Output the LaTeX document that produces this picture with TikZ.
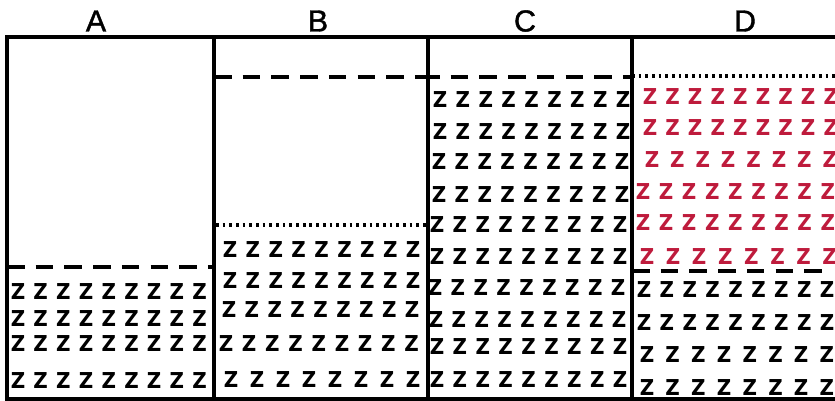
\documentclass[tikz,border=0pt]{standalone}
\usepackage{fontspec}
\setmainfont{Liberation Sans}
\newfontfamily\zfont{DejaVu Sans Bold}
\newfontfamily\headfont{Liberation Sans}[FakeBold=1.2]
\definecolor{zred}{HTML}{BE1B3C}
\begin{document}
\begin{tikzpicture}[x=0.03cm,y=-0.03cm,
  wall/.style={line width=2.9pt},
  levelline/.style={line width=3pt, dash pattern=on 15pt off 9.5pt},
  fineline/.style={line width=2.6pt, dash pattern=on 2.3pt off 3.4pt},
  zlet/.style={font=\zfont\fontsize{17}{17}\selectfont, inner sep=0pt, yscale=1.1},
  zhot/.style={zlet, text=zred},
  head/.style={font=\headfont\fontsize{26}{26}\selectfont, inner sep=0pt}]
  \useasboundingbox (0,0) rectangle (835,401);
  % column headers
  \node[head] (labA) at (96,21) {A};
  \node[head] (labB) at (318,21) {B};
  \node[head] (labC) at (525,21) {C};
  \node[head] (labD) at (745,21) {D};
  % walls of the four columns (right side open)
  \draw[wall] (835,37) -- (7,37) -- (7,399) -- (835,399);
  \foreach \xw in {214,428,632}
    \draw[wall] (\xw,37) -- (\xw,399);
  % fill levels
  \draw[levelline] (7,267) -- (212,267);
  \draw[levelline] (214,77) -- (428,77);
  \draw[fineline] (216,225) -- (428,225);
  \draw[levelline] (422,77) -- (632,77);
  \draw[fineline] (632,76) -- (835,76);
  \draw[levelline] (632,271) -- (830,271);
  % rows of Z: y / first x / spacing / count
  \foreach \y/\xa/\dx/\n [count=\r] in {292/18/22.7/9, 319/18/22.7/9, 344/18/22.7/9, 381/18/22.7/9}
    \foreach \c in {1,...,\n}
      \node[zlet] (zA-\r-\c) at ({\xa+(\c-1)*\dx},\y) {Z};
  \foreach \y/\xa/\dx/\n [count=\r] in {250/230/22.9/9, 281/230/22.9/9, 310/229/22.9/9, 344/226/23.2/9, 380/231/26/8}
    \foreach \c in {1,...,\n}
      \node[zlet] (zB-\r-\c) at ({\xa+(\c-1)*\dx},\y) {Z};
  \foreach \y/\xa [count=\r] in {100/440, 132/440, 162/439, 195/439, 225/437, 257/437, 288/435, 320/436, 347/437, 380/437}
    \foreach \c in {1,...,9}
      \node[zlet] (zC-\r-\c) at ({\xa+(\c-1)*22.9},\y) {Z};
  % hot layer in D
  \foreach \y/\xa/\dx/\n [count=\r] in {97/650/22.6/9, 128/650/22.6/9, 160/652/25.4/8, 192/643/23.1/9, 223/643/23.1/9, 257/647/26.1/8}
    \foreach \c in {1,...,\n}
      \node[zhot] (zDh-\r-\c) at ({\xa+(\c-1)*\dx},\y) {Z};
  \foreach \y/\xa/\dx/\n [count=\r] in {290/644/22.9/9, 323/644/22.9/9, 355/647/25.7/8, 388/647/25.7/8}
    \foreach \c in {1,...,\n}
      \node[zlet] (zD-\r-\c) at ({\xa+(\c-1)*\dx},\y) {Z};
\end{tikzpicture}
\end{document}
